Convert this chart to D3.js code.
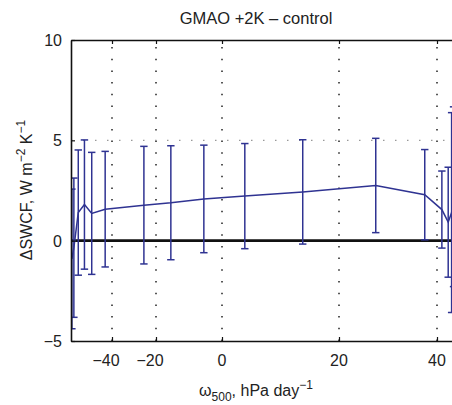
<!DOCTYPE html>
<html>
<head>
<meta charset="utf-8">
<script src="https://cdn.jsdelivr.net/npm/d3@7"></script>
<style>
  body { margin: 0; background: #fff; }
  text { font-family: "Liberation Sans", Arial, sans-serif; fill: #222; }
</style>
</head>
<body>
<div id="canvas"></div>
<script>
// omega_500 bin centres (hPa/day), mean change in SWCF and its spread
const omegaBins = [-58.2, -57.3, -55.3, -52.5, -49.2, -43.1, -25.5, -15.5, -5.5, 3.9, 13.8, 27.5, 37.5, 41.0, 42.3, 43.0, 43.4];
const swcfMean  = [-0.91, -0.35, 1.40, 1.80, 1.36, 1.57, 1.77, 1.89, 2.08, 2.22, 2.43, 2.75, 2.29, 1.55, 0.92, 1.40, 2.19];
const swcfErr   = [3.48, 3.47, 3.12, 3.22, 3.04, 2.88, 2.93, 2.84, 2.68, 2.62, 2.60, 2.35, 2.25, 1.92, 2.74, 4.98, 4.48];
const xTicks = [-40, -20, 0, 20, 40];
const yTicks = [-5, 0, 5, 10];

const data = omegaBins.map((w, i) => ({ w: w, m: swcfMean[i], e: swcfErr[i] }));

const width = 452, height = 405;
const margin = { top: 40, left: 71 };
const iwidth = 385, iheight = 301;
const blue = "#2f3392";

const svg = d3.select("#canvas").append("svg")
    .attr("width", width)
    .attr("height", height);

const g = svg.append("g").attr("transform", `translate(${margin.left},${margin.top})`);

// the omega axis is stretched unevenly, so a piecewise linear scale
const x = d3.scaleLinear()
    .domain([-58.6, -40, -20, 0, 20, 40, 43.9])
    .range([0, 41, 85, 151, 268, 366, iwidth]);

const y = d3.scaleLinear()
    .domain([-5, 10])
    .range([iheight, 0]);

g.append("clipPath").attr("id", "clip")
  .append("rect").attr("width", iwidth).attr("height", iheight);

// dotted grid at x ticks
g.selectAll(".vgrid").data(xTicks).enter().append("line")
    .attr("x1", d => x(d)).attr("x2", d => x(d))
    .attr("y1", iheight).attr("y2", 0)
    .style("stroke", "#111")
    .style("stroke-width", 1.4)
    .style("stroke-dasharray", "1.5,10.2");

// dotted reference line at 5
g.append("line")
    .attr("x1", 0).attr("x2", iwidth)
    .attr("y1", y(5)).attr("y2", y(5))
    .style("stroke", "#999")
    .style("stroke-width", 1.4)
    .style("stroke-dasharray", "1.5,10.5");

// zero line
g.append("line")
    .attr("x1", 0).attr("x2", iwidth)
    .attr("y1", y(0)).attr("y2", y(0))
    .style("stroke", "#111")
    .style("stroke-width", 2.6);

const plot = g.append("g").attr("clip-path", "url(#clip)");

// error bars
const bars = plot.selectAll(".bar").data(data).enter().append("g")
    .style("stroke", blue)
    .style("stroke-width", 1.5);
bars.append("line")
    .attr("x1", d => x(d.w)).attr("x2", d => x(d.w))
    .attr("y1", d => y(d.m - d.e)).attr("y2", d => y(d.m + d.e));
bars.append("line")
    .attr("x1", d => x(d.w) - 3.7).attr("x2", d => x(d.w) + 3.7)
    .attr("y1", d => y(d.m + d.e)).attr("y2", d => y(d.m + d.e));
bars.append("line")
    .attr("x1", d => x(d.w) - 3.7).attr("x2", d => x(d.w) + 3.7)
    .attr("y1", d => y(d.m - d.e)).attr("y2", d => y(d.m - d.e));

plot.append("path")
    .datum(data)
    .attr("d", d3.line().x(d => x(d.w)).y(d => y(d.m)))
    .style("fill", "none")
    .style("stroke", blue)
    .style("stroke-width", 1.5);

// axes: ticks point inward, labels drawn separately
const xb = g.append("g")
    .attr("transform", `translate(0,${iheight})`)
    .call(d3.axisBottom(x).tickValues(xTicks).tickSizeInner(-4).tickSizeOuter(0).tickFormat(""));
const xt = g.append("g")
    .call(d3.axisTop(x).tickValues(xTicks).tickSizeInner(-4).tickSizeOuter(0).tickFormat(""));
const yl = g.append("g")
    .call(d3.axisLeft(y).tickValues(yTicks).tickSizeInner(-4).tickSizeOuter(0).tickFormat(""));
[xb, xt, yl].forEach(a => {
  a.select(".domain").style("stroke", "#111").style("stroke-width", 1.6);
  a.selectAll(".tick line").style("stroke", "#111").style("stroke-width", 1.2);
});

g.selectAll(".xlab").data(xTicks).enter().append("text")
    .attr("x", d => x(d))
    .attr("dx", d => d < 0 ? -6 : 0)
    .attr("y", iheight + 25)
    .attr("text-anchor", "middle")
    .style("font-size", "16px")
    .text(d => d < 0 ? "\u2212" + Math.abs(d) : d);

g.selectAll(".ylab").data(yTicks).enter().append("text")
    .attr("x", -9)
    .attr("y", d => y(d) + 6)
    .attr("text-anchor", "end")
    .style("font-size", "16px")
    .text(d => d < 0 ? "\u2212" + Math.abs(d) : d);

// title
svg.append("text")
    .attr("x", 256).attr("y", 24)
    .attr("text-anchor", "middle")
    .style("font-size", "16.5px")
    .text("GMAO +2K \u2013 control");

// x label
const xlab = svg.append("text")
    .attr("x", 256).attr("y", 396)
    .attr("text-anchor", "middle")
    .style("font-size", "16px");
xlab.append("tspan").text("\u03c9");
xlab.append("tspan").attr("dy", 5).style("font-size", "12px").text("500");
xlab.append("tspan").attr("dy", -5).text(", hPa day");
xlab.append("tspan").attr("dy", -7).style("font-size", "12px").text("\u22121");

// y label
const ylab = svg.append("text")
    .attr("transform", "translate(32,190) rotate(-90)")
    .attr("text-anchor", "middle")
    .style("font-size", "16px");
ylab.append("tspan").text("\u0394SWCF, W m");
ylab.append("tspan").attr("dy", -7).style("font-size", "12px").text("\u22122");
ylab.append("tspan").attr("dy", 7).text(" K");
ylab.append("tspan").attr("dy", -7).style("font-size", "12px").text("\u22121");
</script>
</body>
</html>
